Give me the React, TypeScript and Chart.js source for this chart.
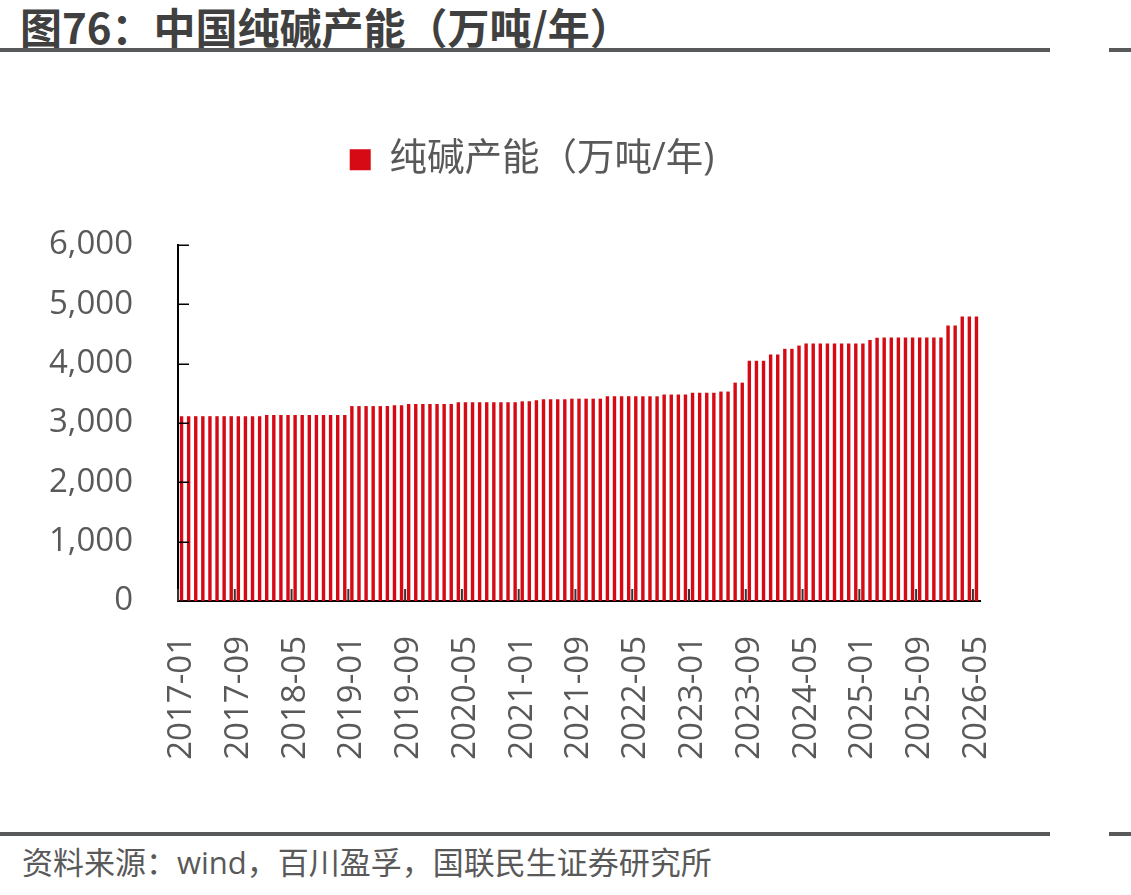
import React, { useEffect, useRef } from 'react';
import { Chart, registerables } from 'chart.js';

Chart.register(...registerables);

// Categories: monthly, 2017-01 .. 2026-05
const months: string[] = [
  '2017-01', '2017-02', '2017-03', '2017-04', '2017-05', '2017-06', '2017-07', '2017-08', '2017-09', '2017-10', '2017-11', '2017-12',
  '2018-01', '2018-02', '2018-03', '2018-04', '2018-05', '2018-06', '2018-07', '2018-08', '2018-09', '2018-10', '2018-11', '2018-12',
  '2019-01', '2019-02', '2019-03', '2019-04', '2019-05', '2019-06', '2019-07', '2019-08', '2019-09', '2019-10', '2019-11', '2019-12',
  '2020-01', '2020-02', '2020-03', '2020-04', '2020-05', '2020-06', '2020-07', '2020-08', '2020-09', '2020-10', '2020-11', '2020-12',
  '2021-01', '2021-02', '2021-03', '2021-04', '2021-05', '2021-06', '2021-07', '2021-08', '2021-09', '2021-10', '2021-11', '2021-12',
  '2022-01', '2022-02', '2022-03', '2022-04', '2022-05', '2022-06', '2022-07', '2022-08', '2022-09', '2022-10', '2022-11', '2022-12',
  '2023-01', '2023-02', '2023-03', '2023-04', '2023-05', '2023-06', '2023-07', '2023-08', '2023-09', '2023-10', '2023-11', '2023-12',
  '2024-01', '2024-02', '2024-03', '2024-04', '2024-05', '2024-06', '2024-07', '2024-08', '2024-09', '2024-10', '2024-11', '2024-12',
  '2025-01', '2025-02', '2025-03', '2025-04', '2025-05', '2025-06', '2025-07', '2025-08', '2025-09', '2025-10', '2025-11', '2025-12',
  '2026-01', '2026-02', '2026-03', '2026-04', '2026-05',
];

// 纯碱产能（万吨/年）
const capacity: number[] = [
  3115, 3115, 3115, 3115, 3115, 3115, 3115, 3115, 3115, 3115, 3115, 3115,
  3135, 3135, 3135, 3135, 3135, 3135, 3135, 3135, 3135, 3135, 3135, 3135,
  3285, 3285, 3285, 3285, 3285, 3285, 3300, 3300, 3320, 3320, 3320, 3320,
  3320, 3320, 3320, 3350, 3350, 3350, 3350, 3350, 3350, 3350, 3350, 3350,
  3365, 3365, 3385, 3400, 3400, 3400, 3400, 3410, 3410, 3410, 3410, 3410,
  3450, 3450, 3450, 3450, 3450, 3450, 3450, 3450, 3480, 3480, 3480, 3480,
  3510, 3510, 3510, 3510, 3530, 3530, 3680, 3680, 4050, 4050, 4050, 4155,
  4155, 4250, 4250, 4305, 4340, 4340, 4340, 4340, 4340, 4340, 4340, 4340,
  4340, 4400, 4435, 4440, 4440, 4440, 4440, 4440, 4440, 4440, 4440, 4440,
  4645, 4645, 4795, 4795, 4795,
];

const yTickValues: number[] = [0, 1000, 2000, 3000, 4000, 5000, 6000];
const LABEL_STEP = 8;

const SERIES_NAME = '纯碱产能（万吨/年)';
const TITLE = '图76：中国纯碱产能（万吨/年）';
const SOURCE = '资料来源：wind，百川盈孚，国联民生证券研究所';

const RED = '#D50A14';
const TEXT_GRAY = '#595959';
const FONT = '"Open Sans", "Noto Sans CJK SC", sans-serif';

const inwardTicks = {
  id: 'inwardTicks',
  afterDatasetsDraw(chart: any) {
    const { ctx, chartArea, scales } = chart;
    const xs = scales.x;
    const ys = scales.y;
    ctx.save();
    ctx.strokeStyle = '#000000';
    ctx.lineWidth = 1.5;
    yTickValues.forEach((v) => {
      const py = Math.round(ys.getPixelForValue(v)) + 0.25;
      ctx.beginPath();
      ctx.moveTo(chartArea.left, py);
      ctx.lineTo(chartArea.left + 11, py);
      ctx.stroke();
    });
    ctx.strokeStyle = '#333333';
    ctx.lineWidth = 2;
    for (let i = 0; i < months.length; i += LABEL_STEP) {
      const px = i === 0 ? chartArea.left : (xs.getPixelForValue(i) + xs.getPixelForValue(i - 1)) / 2;
      ctx.beginPath();
      ctx.moveTo(px, chartArea.bottom);
      ctx.lineTo(px, chartArea.bottom - 12);
      ctx.stroke();
    }
    ctx.restore();
  },
};

function CapacityChart() {
  const ref = useRef<HTMLCanvasElement | null>(null);
  useEffect(() => {
    if (!ref.current) return;
    const chart = new Chart(ref.current, {
      type: 'bar',
      data: {
        labels: months,
        datasets: [
          {
            label: SERIES_NAME,
            data: capacity,
            backgroundColor: RED,
            borderWidth: 0,
            barPercentage: 1,
            categoryPercentage: 0.48,
          },
        ],
      },
      options: {
        responsive: false,
        animation: false,
        devicePixelRatio: 1,
        layout: { padding: { left: 40, right: 107, top: 71, bottom: 0 } },
        plugins: {
          legend: {
            display: true,
            position: 'top',
            labels: {
              boxWidth: 21,
              boxHeight: 21,
              padding: 10,
              color: TEXT_GRAY,
              font: { family: FONT, size: 37.5 },
            },
          },
          title: {
            display: true,
            text: '',
            weight: 500,
            font: { size: 10, lineHeight: 1 },
            padding: { top: 23, bottom: 23.5 },
          },
          tooltip: { enabled: false },
        },
        scales: {
          x: {
            type: 'category',
            offset: true,
            grid: { display: false },
            border: { display: true, color: '#000000', width: 2 },
            ticks: {
              autoSkip: false,
              minRotation: 90,
              maxRotation: 90,
              padding: 27,
              color: TEXT_GRAY,
              font: { family: FONT, size: 33 },
              callback: (_v: any, i: number) => (i % LABEL_STEP === 0 ? months[i] : ''),
            },
            afterFit: (s: any) => {
              s.height = 170;
            },
          },
          y: {
            min: 0,
            max: 6000,
            grid: { display: false },
            border: { display: true, color: '#000000', width: 2 },
            ticks: {
              stepSize: 1000,
              padding: 37,
              color: TEXT_GRAY,
              font: { family: FONT, size: 33 },
            },
            afterFit: (s: any) => {
              s.width = 138;
            },
          },
          spacer: {
            type: 'linear',
            position: 'right',
            display: true,
            grid: { display: false },
            border: { display: false },
            ticks: { display: false },
            afterFit: (s: any) => {
              s.width = 44;
            },
          },
        },
      },
      plugins: [inwardTicks],
    } as any);
    return () => chart.destroy();
  }, []);
  return <canvas ref={ref} width={1131} height={711} style={{ display: 'block' }} />;
}

export default function App() {
  return (
    <div
      style={{
        position: 'absolute',
        left: 0,
        top: 0,
        width: 1131,
        height: 895,
        background: '#ffffff',
        overflow: 'hidden',
        fontFamily: FONT,
      }}
    >
      <div
        style={{
          position: 'absolute',
          left: 20,
          top: 3,
          fontSize: 42,
          lineHeight: '46px',
          fontWeight: 700,
          color: '#404040',
          fontFamily: '"Noto Sans CJK SC", sans-serif',
          whiteSpace: 'nowrap',
        }}
      >
        {TITLE}
      </div>
      <div style={{ position: 'absolute', left: 0, top: 48, width: 1050, height: 4, background: '#58595B' }} />
      <div style={{ position: 'absolute', left: 1109, top: 48, width: 22, height: 4, background: '#58595B' }} />
      <div style={{ position: 'absolute', left: 0, top: 60 }}>
        <CapacityChart />
      </div>
      <div style={{ position: 'absolute', left: 0, top: 832, width: 1050, height: 4, background: '#58595B' }} />
      <div style={{ position: 'absolute', left: 1109, top: 832, width: 22, height: 4, background: '#58595B' }} />
      <div
        style={{
          position: 'absolute',
          left: 22,
          top: 842,
          fontSize: 31,
          lineHeight: '40px',
          color: TEXT_GRAY,
          fontFamily: FONT,
          whiteSpace: 'nowrap',
        }}
      >
        {SOURCE}
      </div>
    </div>
  );
}
